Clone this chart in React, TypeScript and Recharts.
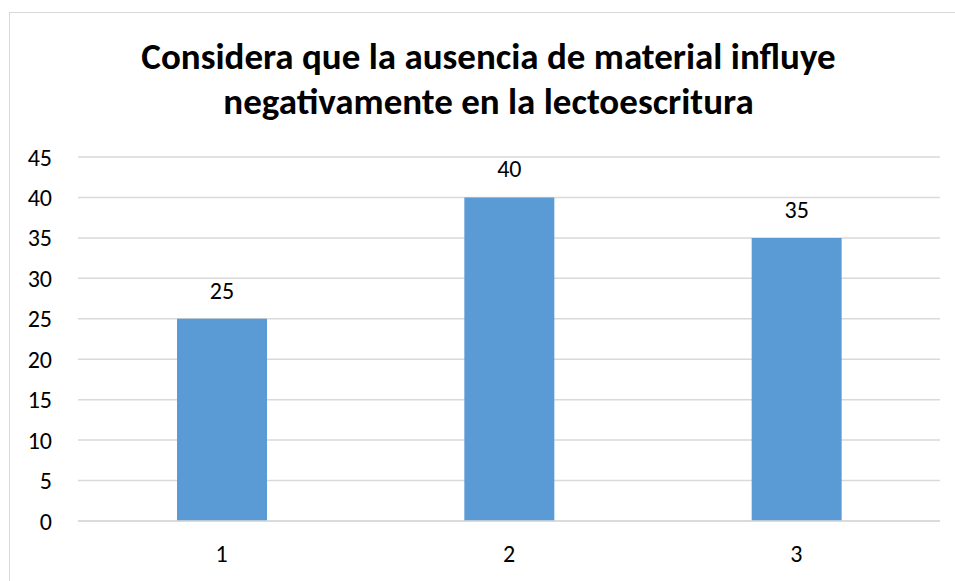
import React from 'react';
import { BarChart, Bar, XAxis, YAxis, CartesianGrid, LabelList } from 'recharts';

const categories = ['1', '2', '3'];
const values = [25, 40, 35];
const yTicks = [0, 5, 10, 15, 20, 25, 30, 35, 40, 45];

const data = categories.map((name, i) => ({ name, value: values[i] }));

const FONT = 'Calibri, Carlito, Lato, "Open Sans", sans-serif';

export default function App() {
  return (
    <div style={{ position: 'fixed', left: 0, top: 0, width: 955, height: 581, background: '#fff', overflow: 'hidden', fontFamily: FONT }}>
      {/* chart frame */}
      <div style={{ position: 'absolute', left: 9, top: 12, width: 960, height: 600, border: '1px solid #d9d9d9', boxSizing: 'border-box' }} />
      <div style={{ position: 'absolute', left: 0, top: 34, width: 977, textAlign: 'center', fontWeight: 700, fontSize: 37, lineHeight: '45px', color: '#000' }}>
        Considera que la ausencia de material influye
        <br />
        negativamente en la lectoescritura
      </div>
      <div style={{ position: 'absolute', left: 0, top: 0 }}>
        <BarChart width={955} height={581} data={data} margin={{ top: 157, right: 15, bottom: 0, left: 0 }}>
          <CartesianGrid vertical={false} stroke="#d9d9d9" strokeWidth={1.5} />
          <XAxis
            dataKey="name"
            height={60}
            tickLine={false}
            axisLine={{ stroke: '#d9d9d9', strokeWidth: 1.5 }}
            tickMargin={18}
            tick={{ fontSize: 24, fill: '#000', fontFamily: FONT }}
          />
          <YAxis
            width={78}
            domain={[0, 45]}
            ticks={yTicks}
            interval={0}
            tickLine={false}
            axisLine={false}
            tickMargin={20}
            tick={{ fontSize: 24, fill: '#000', fontFamily: FONT }}
          />
          <Bar dataKey="value" fill="#5b9bd5" barSize={90} isAnimationActive={false}>
            <LabelList dataKey="value" position="top" offset={20} style={{ fontSize: 24, fill: '#000', fontFamily: FONT }} />
          </Bar>
        </BarChart>
      </div>
    </div>
  );
}
